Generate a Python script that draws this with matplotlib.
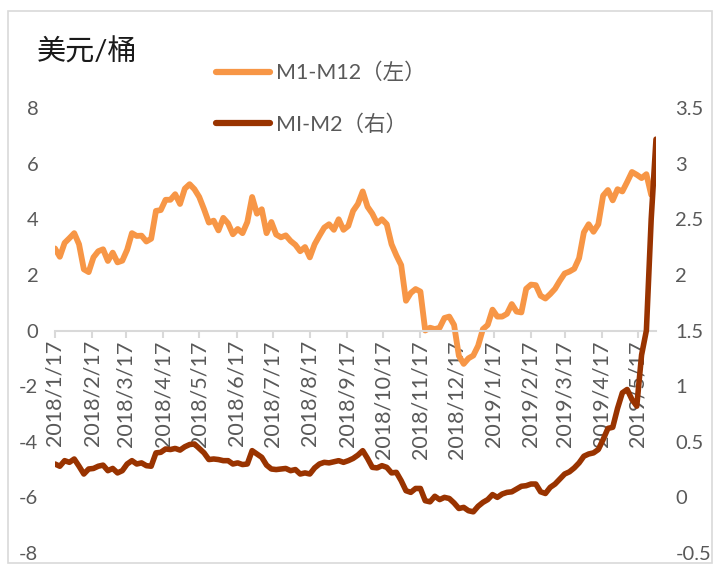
import matplotlib
matplotlib.use("Agg")
import matplotlib.pyplot as plt
from matplotlib.patches import Rectangle
import pandas as pd

plt.rcParams['font.family'] = ['Lato', 'Noto Sans CJK SC', 'DejaVu Sans']

# ---------------- data ----------------
start_date = "2018-01-17"
step = "4D"

m1_m12 = [2.95, 2.65, 3.15, 3.32, 3.5, 3.1, 2.2, 2.1, 2.63, 2.85,
          2.92, 2.5, 2.8, 2.45, 2.51, 2.9, 3.5, 3.4, 3.41, 3.2,
          3.3, 4.3, 4.33, 4.7, 4.7, 4.9, 4.55, 5.1, 5.26, 5.08,
          4.8, 4.36, 3.88, 3.95, 3.6, 4.05, 3.85, 3.46, 3.65, 3.5,
          3.9, 4.8, 4.2, 4.36, 3.5, 3.9, 3.45, 3.35, 3.42, 3.22,
          3.08, 2.85, 3.0, 2.63, 3.1, 3.41, 3.7, 3.82, 3.62, 4.0,
          3.62, 3.76, 4.3, 4.55, 5.0, 4.45, 4.2, 3.85, 4.0, 3.82,
          3.1, 2.7, 2.35, 1.07, 1.35, 1.49, 1.4, 0.0, 0.1, 0.05,
          0.1, 0.45, 0.5, 0.2, -0.91, -1.2, -1.0, -0.9, -0.55, 0.05,
          0.2, 0.75, 0.5, 0.5, 0.6, 0.95, 0.68, 0.65, 1.5, 1.65,
          1.63, 1.25, 1.15, 1.31, 1.5, 1.79, 2.05, 2.12, 2.22, 2.6,
          3.53, 3.82, 3.55, 3.82, 4.85, 5.05, 4.68, 5.08, 5.0, 5.34,
          5.7, 5.6, 5.48, 5.62, 4.88]

mi_m2 = [0.30, 0.28, 0.33, 0.315, 0.345, 0.28, 0.21, 0.255, 0.26, 0.28,
         0.29, 0.24, 0.26, 0.22, 0.24, 0.30, 0.33, 0.30, 0.31, 0.285,
         0.28, 0.40, 0.405, 0.435, 0.43, 0.44, 0.425, 0.455, 0.475, 0.48,
         0.44, 0.40, 0.34, 0.345, 0.34, 0.33, 0.33, 0.30, 0.31, 0.295,
         0.30, 0.42, 0.39, 0.36, 0.29, 0.255, 0.25, 0.255, 0.26, 0.24,
         0.25, 0.21, 0.22, 0.21, 0.265, 0.30, 0.315, 0.31, 0.32, 0.33,
         0.315, 0.33, 0.35, 0.38, 0.42, 0.35, 0.27, 0.265, 0.285, 0.27,
         0.22, 0.225, 0.15, 0.06, 0.045, 0.08, 0.08, -0.03, -0.04, 0.01,
         -0.02, 0.0, -0.01, -0.05, -0.1, -0.09, -0.12, -0.13, -0.08, -0.045,
         -0.02, 0.025, 0.0, 0.03, 0.045, 0.05, 0.075, 0.1, 0.105, 0.12,
         0.12, 0.05, 0.035, 0.09, 0.12, 0.165, 0.21, 0.23, 0.265, 0.31,
         0.37, 0.39, 0.40, 0.43, 0.52, 0.62, 0.63, 0.80, 0.94, 0.97,
         0.88, 0.82, 1.28, 1.5, 2.5, 3.22]

tick_dates = ["2018-01-17", "2018-02-17", "2018-03-17", "2018-04-17", "2018-05-17",
              "2018-06-17", "2018-07-17", "2018-08-17", "2018-09-17", "2018-10-17",
              "2018-11-17", "2018-12-17", "2019-01-17", "2019-02-17", "2019-03-17",
              "2019-04-17", "2019-05-17"]
tick_labels = ["2018/1/17", "2018/2/17", "2018/3/17", "2018/4/17", "2018/5/17",
               "2018/6/17", "2018/7/17", "2018/8/17", "2018/9/17", "2018/10/17",
               "2018/11/17", "2018/12/17", "2019/1/17", "2019/2/17", "2019/3/17",
               "2019/4/17", "2019/5/17"]

left_ticks = [-8, -6, -4, -2, 0, 2, 4, 6, 8]
right_ticks = [-0.5, 0, 0.5, 1, 1.5, 2, 2.5, 3, 3.5]
right_labels = ["-0.5", "0", "0.5", "1", "1.5", "2", "2.5", "3", "3.5"]

name_left = "M1-M12（左）"
name_right = "MI-M2（右）"
unit = "美元/桶"

# ---------------- plot ----------------
dates_all = pd.date_range(start_date, periods=len(mi_m2), freq=step)
d_left = dates_all[:len(m1_m12)]

W, H = 716, 565
fig = plt.figure(figsize=(W / 100, H / 100), dpi=100)
ax = fig.add_axes([55 / W, 1 - 553 / H, (656 - 55) / W, (553 - 108) / H])
ax2 = ax.twinx()

c_orange = "#F79646"
c_brown = "#993300"
gray = "#595959"

l1, = ax.plot(d_left, m1_m12, color=c_orange, lw=4.2, solid_joinstyle="round",
              solid_capstyle="round")
l2, = ax2.plot(dates_all, mi_m2, color=c_brown, lw=4.0, solid_joinstyle="round",
               solid_capstyle="round")

ax.set_xlim(dates_all[0], dates_all[-1])
ax.set_ylim(-8, 8)
ax2.set_ylim(-0.5, 3.5)

for a in (ax, ax2):
    for s in a.spines.values():
        s.set_visible(False)
ax.spines['bottom'].set_visible(True)
ax.spines['bottom'].set_position(('data', 0))
ax.spines['bottom'].set_color("#d9d9d9")
ax.spines['bottom'].set_linewidth(1.5)

ax.set_xticks(pd.to_datetime(tick_dates))
ax.set_xticklabels(tick_labels, rotation=90, color=gray, fontsize=15.5)
ax.tick_params(axis='x', direction='out', length=5, width=1.5, color="#d9d9d9", pad=2)

ax.set_yticks(left_ticks)
ax.set_yticklabels([str(t) for t in left_ticks], color=gray, fontsize=14.5)
ax.tick_params(axis='y', length=0, pad=12)

ax2.set_yticks(right_ticks)
ax2.set_yticklabels(right_labels, color=gray, fontsize=14.5)
ax2.tick_params(axis='y', length=0, pad=14)

fig.text(37 / W, 1 - 52 / H, unit, fontsize=21, color="#1a1a1a", va="center", ha="left")

leg = ax.legend([l1, l2], [name_left, name_right], loc="upper left",
                bbox_to_anchor=(205 / W, 1 - 52 / H), bbox_transform=fig.transFigure,
                frameon=False, fontsize=15.5, labelspacing=1.45, handlelength=2.5,
                handletextpad=0.3, borderpad=0)
for t in leg.get_texts():
    t.set_color(gray)
for h in leg.legend_handles:
    h.set_linewidth(4.5)

fig.patches.append(Rectangle((8 / W, 1 - 563 / H), (712 - 8) / W, (563 - 11) / H,
                             transform=fig.transFigure, fill=False,
                             edgecolor="#d9d9d9", lw=1.2))

fig.savefig("out.png", dpi=100)
